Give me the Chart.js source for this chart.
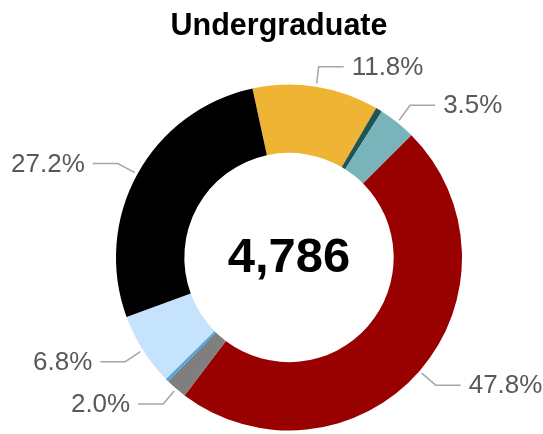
<!DOCTYPE html>
<html>
<head>
<meta charset="utf-8">
<script src="https://cdn.jsdelivr.net/npm/chart.js@4/dist/chart.umd.min.js"></script>
<style>
  html, body { margin: 0; padding: 0; background: #ffffff; }
  #wrap { width: 543px; height: 434px; position: relative; }
</style>
</head>
<body>
<div id="wrap"><canvas id="c" width="543" height="434"></canvas></div>
<script>
// ---- data ----
const titleText = 'Undergraduate';
const centerTotal = '4,786';
const categories = ['Category 1', 'Category 2', 'Category 3', 'Category 4', 'Category 5', 'Category 6', 'Category 7', 'Category 8'];
const values = [11.8, 0.6, 3.5, 47.8, 2.0, 0.3, 6.8, 27.2];
const valueLabels = ['11.8%', '', '3.5%', '47.8%', '2.0%', '', '6.8%', '27.2%'];

// ---- styles ----
const colors = ['#F0B434', '#1E5656', '#79B4BB', '#990000', '#7F7F7F', '#4FA6DE', '#C6E3FD', '#000000'];
const elbowOffsets = [[2, -17], [0, 0], [11, -15], [14, 12], [-11, 13], [0, 0], [-15, 10], [-17, -9]];

const FONT = '"Liberation Sans", Arial, sans-serif';

const labelPlugin = {
  id: 'labelPlugin',
  afterDraw(chart) {
    const ctx = chart.ctx;
    const meta = chart.getDatasetMeta(0);
    ctx.save();
    meta.data.forEach((arc, i) => {
      if (!valueLabels[i]) return;
      const p = arc.getProps(['x', 'y', 'startAngle', 'endAngle', 'outerRadius'], true);
      const mid = (p.startAngle + p.endAngle) / 2;
      const ax = p.x + Math.cos(mid) * (p.outerRadius + 3);
      const ay = p.y + Math.sin(mid) * (p.outerRadius + 3);
      const right = Math.cos(mid) >= 0;
      const ex = ax + elbowOffsets[i][0];
      const ey = ay + elbowOffsets[i][1];
      const hx = ex + (right ? 25 : -25);
      ctx.beginPath();
      ctx.moveTo(ax, ay);
      ctx.lineTo(ex, ey);
      ctx.lineTo(hx, ey);
      ctx.strokeStyle = '#A6A6A6';
      ctx.lineWidth = 1.5;
      ctx.stroke();
      ctx.fillStyle = '#595959';
      ctx.font = '26px ' + FONT;
      ctx.textBaseline = 'middle';
      ctx.textAlign = right ? 'left' : 'right';
      ctx.fillText(valueLabels[i], hx + (right ? 8 : -8), ey + 1);
    });
    // center total
    const a0 = meta.data[0];
    ctx.fillStyle = '#000000';
    ctx.font = 'bold 49px ' + FONT;
    ctx.textAlign = 'center';
    ctx.textBaseline = 'middle';
    ctx.fillText(centerTotal, a0.x, a0.y + 1);
    // title
    ctx.font = 'bold 30.5px ' + FONT;
    ctx.textBaseline = 'alphabetic';
    ctx.fillText(titleText, 279, 35);
    ctx.restore();
  }
};

new Chart(document.getElementById('c'), {
  type: 'doughnut',
  data: {
    labels: categories,
    datasets: [{
      data: values,
      backgroundColor: colors,
      borderWidth: 0,
      hoverOffset: 0
    }]
  },
  options: {
    responsive: false,
    animation: false,
    rotation: -12.2,
    cutout: '60.5%',
    layout: { padding: { left: 116, right: 81, top: 84.5, bottom: 3.5 } },
    plugins: {
      legend: { display: false },
      title: { display: false },
      tooltip: { enabled: false }
    }
  },
  plugins: [labelPlugin]
});
</script>
</body>
</html>
